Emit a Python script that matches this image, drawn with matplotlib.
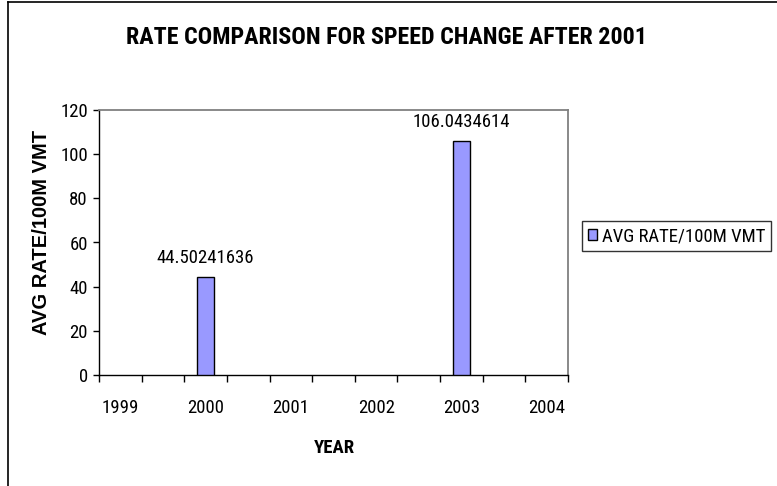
import matplotlib
matplotlib.use("Agg")
import matplotlib.pyplot as plt
from matplotlib.lines import Line2D
from matplotlib.ticker import FixedLocator, NullFormatter

# Yearly axis with half-year slots between labelled years
years = ["1999", "2000", "2001", "2002", "2003", "2004"]
bar_years = ["2000", "2003"]
bar_values = [44.50241636, 106.0434614]
series_name = "AVG RATE/100M VMT"
y_ticks = [0, 20, 40, 60, 80, 100, 120]

narrow = ["Roboto Condensed", "Archivo Narrow", "DejaVu Sans"]
wide = ["Liberation Sans", "DejaVu Sans"]

W, H = 777, 486
fig = plt.figure(figsize=(W / 100, H / 100), dpi=100)
fig.patch.set_facecolor("white")

# chart-area frame (left and top edges)
fig.add_artist(Line2D([8 / W, 8 / W], [0, 1 - 2 / H], transform=fig.transFigure,
                      color="black", lw=1.2))
fig.add_artist(Line2D([8 / W, 1], [1 - 2 / H, 1 - 2 / H], transform=fig.transFigure,
                      color="black", lw=1.2))

ax = fig.add_axes([99 / W, 1 - 375 / H, (568 - 99) / W, (375 - 110) / H])

n_slots = 2 * len(years) - 1
positions = [2 * years.index(y) for y in bar_years]
bars = ax.bar(positions, bar_values, width=0.40, color="#9999FF",
              edgecolor="black", linewidth=1.0, label=series_name, zorder=3)

for x, v in zip(positions, bar_values):
    ax.annotate(f"{v:.10g}", (x, v), xytext=(0, 7), textcoords="offset points",
                ha="center", va="bottom", fontsize=13.5, family=narrow)

ax.set_xlim(-0.5, n_slots - 0.5)
ax.set_ylim(0, 120)
ax.set_yticks(y_ticks)
ax.set_yticklabels([str(t) for t in y_ticks], family=narrow, fontsize=13.5)

ax.xaxis.set_major_locator(FixedLocator([2 * i for i in range(len(years))]))
ax.set_xticklabels(years, family=narrow, fontsize=13.5)
ax.tick_params(axis="x", which="major", length=0, pad=17)
ax.xaxis.set_minor_locator(FixedLocator([i - 0.5 for i in range(n_slots + 1)]))
ax.xaxis.set_minor_formatter(NullFormatter())
ax.tick_params(axis="x", which="minor", length=5, width=1, direction="out", color="black")
ax.tick_params(axis="y", length=4, width=1, direction="out", pad=4)

for side in ("top", "right"):
    ax.spines[side].set_color("#808080")
    ax.spines[side].set_linewidth(1.3)
for side in ("left", "bottom"):
    ax.spines[side].set_color("black")
    ax.spines[side].set_linewidth(1.0)

ax.set_xlabel("YEAR", family=narrow, fontsize=13.5, fontweight="bold")
ax.xaxis.set_label_coords((334 - 99) / (568 - 99), -(448 - 375) / (375 - 110))
ax.xaxis.label.set_va("center")
ax.set_ylabel("AVG RATE/100M VMT", family=wide, fontsize=14.5, fontweight="bold")
ax.yaxis.set_label_coords(-(99 - 42) / (568 - 99), (375 - 232) / (375 - 110))
ax.yaxis.label.set_va("center")

fig.text(386 / W, 1 - 38 / H, "RATE COMPARISON FOR SPEED CHANGE AFTER 2001",
         ha="center", va="center", family=narrow, fontsize=17.3, fontweight="bold")

leg = fig.legend(handles=[bars], labels=[series_name], loc="center left",
                 bbox_to_anchor=(582 / W, 1 - 236 / H), frameon=True,
                 fancybox=False, edgecolor="black", handlelength=0.5, handleheight=0.5,
                 handletextpad=0.25, borderpad=0.3, borderaxespad=0,
                 prop={"family": narrow, "size": 13.5})
leg.get_frame().set_linewidth(1.0)

fig.savefig("out.png", dpi=100, facecolor="white")
